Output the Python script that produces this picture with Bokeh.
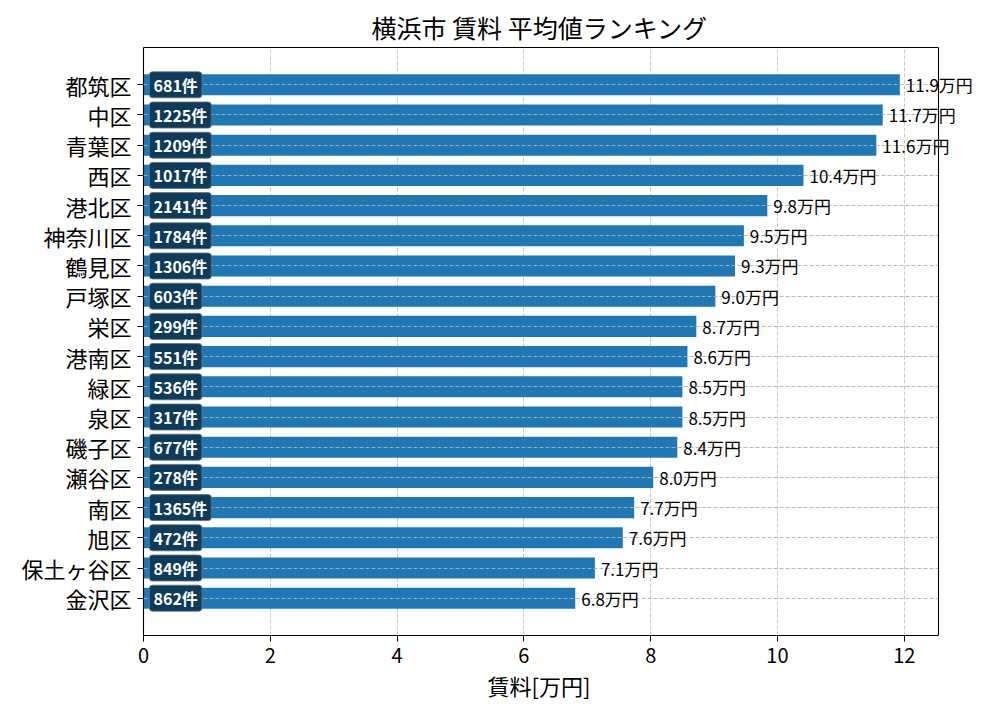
from bokeh.plotting import figure
from bokeh.models import ColumnDataSource, Range1d, FixedTicker, LabelSet, LinearAxis, Span, Title
from bokeh.core.properties import value
from bokeh.embed import file_html
from bokeh.resources import INLINE

# ---- data ----
wards = ["都筑区", "中区", "青葉区", "西区", "港北区", "神奈川区", "鶴見区", "戸塚区", "栄区",
         "港南区", "緑区", "泉区", "磯子区", "瀬谷区", "南区", "旭区", "保土ヶ谷区", "金沢区"]
rent = [11.93, 11.66, 11.56, 10.41, 9.84, 9.47, 9.33, 9.02, 8.72,
        8.58, 8.50, 8.50, 8.42, 8.04, 7.74, 7.56, 7.12, 6.81]
counts = [681, 1225, 1209, 1017, 2141, 1784, 1306, 603, 299,
          551, 536, 317, 677, 278, 1365, 472, 849, 862]
x_ticks = [0, 2, 4, 6, 8, 10, 12]

FONT = "Noto Sans CJK JP"
n = len(wards)
ypos = [n - 1 - i for i in range(n)]

XMAX = 12.54          # visible axis end
AXIS_W = 795          # pixel width of the visible axes box
W, H = 984, 704
BL, BR, BT, BB = 143, 4, 47, 69
FRAME_W = W - BL - BR
x_end = XMAX * FRAME_W / AXIS_W   # frame extends right so labels are not clipped

src = ColumnDataSource(dict(
    y=ypos,
    rent=rent,
    zero=[0] * n,
    vlabel=[f"{v:.1f}万円" for v in rent],
    clabel=[f"{c}件" for c in counts],
))

p = figure(width=W, height=H, output_backend="svg", toolbar_location=None,
           x_range=Range1d(0, x_end), y_range=Range1d(-1.235, n - 1 + 1.235),
           min_border_left=BL, min_border_right=BR, min_border_top=BT, min_border_bottom=BB,
           title="横浜市 賃料 平均値ランキング")

p.title.text_font = FONT
p.title.text_font_size = "25px"
p.title.text_font_style = "normal"
p.title.align = "left"
p.title.offset = 228
p.title.text_color = "black"
p.title.standoff = 5

p.hbar(y="y", left="zero", right="rent", height=0.7, source=src,
       fill_color="#1f77b4", line_color=None)

# value labels
vl = LabelSet(x="rent", y="y", text="vlabel", source=src, x_offset=6,
              text_font=value(FONT), text_font_size="17px", text_color="black",
              text_baseline="middle", text_align="left")
p.add_layout(vl)

# count labels in boxes
ct = p.text(x="zero", y="y", text="clabel", source=src, x_offset=6,
            text_font=value(FONT), text_font_size="16px", text_font_style="bold",
            text_color="white", text_baseline="middle", text_align="left",
            background_fill_color="#0f3b5a", background_fill_alpha=1.0,
            border_line_color="#5f6f7f", border_line_alpha=0.8, border_line_width=1,
            padding=(4, 1), border_radius=3)
ct.level = "overlay"

# axes
p.yaxis.ticker = FixedTicker(ticks=ypos)
p.yaxis.major_label_overrides = {ypos[i]: wards[i] for i in range(n)}
p.xaxis.ticker = FixedTicker(ticks=x_ticks)
p.xaxis.bounds = (0, XMAX)

for ax in (p.xaxis, p.yaxis):
    ax.axis_line_color = "black"
    ax.axis_line_width = 1.1
    ax.major_tick_line_color = "black"
    ax.major_tick_out = 6
    ax.major_tick_in = 0
    ax.minor_tick_line_color = None
    ax.major_label_text_font = FONT
    ax.major_label_text_color = "black"
    ax.major_label_standoff = 6

p.xaxis.major_label_text_font_size = "20px"
p.yaxis.major_label_text_font_size = "22px"

# x axis label, centred under the visible axis box
xlabel = Title(text="賃料[万円]", align="left", offset=344, text_font=FONT,
               text_font_size="22px", text_font_style="normal", text_color="black",
               standoff=2)
p.add_layout(xlabel, "below")

# top and right spines of the visible box
top_axis = LinearAxis(bounds=(0, XMAX), ticker=FixedTicker(ticks=[]),
                      axis_line_color="black", axis_line_width=1.1,
                      major_tick_line_color=None, minor_tick_line_color=None,
                      major_label_text_font_size="0px", major_label_standoff=0)
p.add_layout(top_axis, "above")
p.add_layout(Span(location=XMAX, dimension="height", line_color="black", line_width=1.1))
p.outline_line_color = None

p.xgrid.grid_line_color = "#b0b0b0"
p.xgrid.grid_line_alpha = 0.7
p.xgrid.grid_line_dash = "4 2"

g = p.ygrid[0]
if "cross_bounds" in g.properties():
    g.cross_bounds = (0, XMAX)
    g.grid_line_color = "#b0b0b0"
    g.grid_line_alpha = 0.9
    g.grid_line_dash = "4 2"
    g.level = "annotation"
else:
    g.visible = False
    gsrc = ColumnDataSource(dict(y=ypos, x0=[0] * n, x1=[XMAX] * n))
    gr = p.segment(x0="x0", x1="x1", y0="y", y1="y", source=gsrc,
                   line_color="#b0b0b0", line_alpha=0.9, line_dash="4 2", line_width=1)
    gr.level = "annotation"

p.background_fill_color = "white"
p.border_fill_color = "white"

open("out.html", "w").write(file_html(p, INLINE))
